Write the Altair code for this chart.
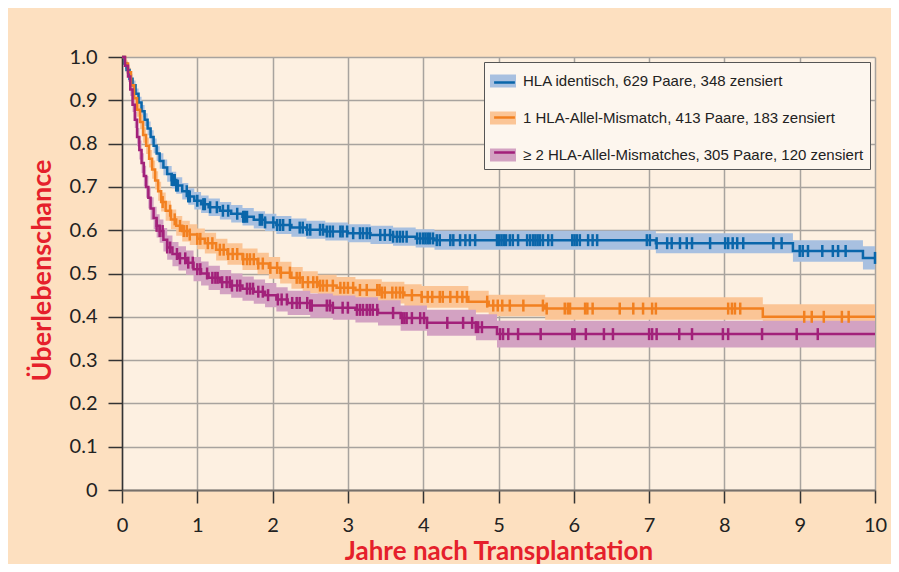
import numpy as np
import pandas as pd
import altair as alt

# ---- data ----
labels = [
    "HLA identisch, 629 Paare, 348 zensiert",
    "1 HLA-Allel-Mismatch, 413 Paare, 183 zensiert",
    "≥ 2 HLA-Allel-Mismatches, 305 Paare, 120 zensiert",
]
line_colors = ["#0a66aa", "#f28020", "#a2217a"]
band_colors = ["#a8c0e0", "#fbc596", "#d3a2c2"]

blue_t = [0, 0.03, 0.06, 0.1, 0.14, 0.18, 0.22, 0.26, 0.3, 0.34,
          0.38, 0.42, 0.46, 0.5, 0.55, 0.6, 0.66, 0.72, 0.8, 0.88,
          0.96, 1.05, 1.15, 1.3, 1.45, 1.6, 1.75, 1.9, 2.05, 2.25,
          2.45, 2.7, 3.0, 3.3, 3.6, 3.9, 4.15, 7.09, 8.91, 9.84]
blue_s = [1.0, 0.985, 0.97, 0.95, 0.935, 0.915, 0.895, 0.875, 0.855, 0.835,
          0.815, 0.795, 0.777, 0.76, 0.745, 0.73, 0.716, 0.703, 0.69, 0.678,
          0.668, 0.66, 0.653, 0.645, 0.638, 0.631, 0.624, 0.618, 0.612, 0.606,
          0.601, 0.597, 0.593, 0.589, 0.585, 0.581, 0.577, 0.570, 0.552, 0.536]
blue_hw = [0.0, 0.006, 0.008, 0.01, 0.011, 0.012, 0.013, 0.014, 0.015, 0.016,
           0.016, 0.017, 0.017, 0.018, 0.018, 0.018, 0.019, 0.019, 0.019, 0.019,
           0.02, 0.02, 0.02, 0.02, 0.02, 0.02, 0.02, 0.02, 0.021, 0.021,
           0.021, 0.021, 0.021, 0.021, 0.021, 0.021, 0.022, 0.023, 0.025, 0.027]

orange_t = [0, 0.04, 0.08, 0.12, 0.16, 0.2, 0.24, 0.28, 0.32, 0.36,
            0.4, 0.44, 0.48, 0.52, 0.58, 0.65, 0.72, 0.8, 0.9, 1.0,
            1.1, 1.25, 1.4, 1.6, 1.8, 1.95, 2.1, 2.25, 2.4, 2.6,
            2.85, 3.1, 3.45, 3.75, 3.98, 4.6, 4.87, 5.62, 8.51]
orange_s = [1.0, 0.985, 0.965, 0.935, 0.905, 0.878, 0.85, 0.82, 0.795, 0.765,
            0.74, 0.715, 0.69, 0.665, 0.645, 0.625, 0.61, 0.598, 0.59, 0.58,
            0.57, 0.555, 0.545, 0.533, 0.523, 0.513, 0.502, 0.49, 0.48, 0.472,
            0.467, 0.462, 0.456, 0.45, 0.446, 0.435, 0.426, 0.419, 0.400]
orange_hw = [0.0, 0.007, 0.01, 0.012, 0.014, 0.016, 0.017, 0.018, 0.019, 0.02,
             0.021, 0.021, 0.022, 0.022, 0.023, 0.023, 0.023, 0.024, 0.024, 0.024,
             0.024, 0.025, 0.025, 0.025, 0.025, 0.025, 0.025, 0.025, 0.025, 0.025,
             0.025, 0.025, 0.025, 0.025, 0.025, 0.025, 0.025, 0.026, 0.029]

purple_t = [0, 0.04, 0.08, 0.11, 0.14, 0.17, 0.2, 0.23, 0.26, 0.29,
            0.32, 0.35, 0.38, 0.42, 0.46, 0.5, 0.55, 0.6, 0.67, 0.75,
            0.85, 0.95, 1.05, 1.15, 1.3, 1.45, 1.6, 1.75, 1.9, 2.05,
            2.2, 2.5, 2.8, 3.1, 3.4, 3.7, 4.05, 4.7, 4.98]
purple_s = [1.0, 0.98, 0.955, 0.925, 0.89, 0.855, 0.815, 0.785, 0.755, 0.725,
            0.7, 0.675, 0.65, 0.628, 0.61, 0.598, 0.578, 0.56, 0.545, 0.535,
            0.525, 0.51, 0.5, 0.49, 0.48, 0.472, 0.465, 0.458, 0.45, 0.44,
            0.432, 0.426, 0.421, 0.416, 0.409, 0.397, 0.386, 0.376, 0.36]
purple_hw = [0.0, 0.008, 0.012, 0.015, 0.017, 0.019, 0.021, 0.022, 0.023, 0.024,
             0.025, 0.025, 0.026, 0.026, 0.027, 0.027, 0.027, 0.028, 0.028, 0.028,
             0.028, 0.028, 0.028, 0.028, 0.028, 0.028, 0.028, 0.028, 0.028, 0.028,
             0.028, 0.028, 0.028, 0.029, 0.029, 0.029, 0.03, 0.03, 0.031]

blue_cens = [0.66, 0.68, 0.70, 0.72, 0.74, 0.86, 0.88, 0.9, 1.0, 1.08, 1.1, 1.17, 1.26, 1.34,
             1.41, 1.53, 1.61, 1.63, 1.66, 1.83, 1.86, 1.90, 2.01, 2.06, 2.10, 2.14,
             2.23, 2.36, 2.40, 2.46, 2.50, 2.63, 2.67, 2.72, 2.76, 2.80, 2.90, 2.93,
             2.99, 3.07, 3.16, 3.20, 3.25, 3.29, 3.43, 3.49, 3.56, 3.60, 3.65, 3.69,
             3.73, 3.78, 3.92, 3.96, 4.0, 4.03, 4.06, 4.09, 4.13, 4.18, 4.22, 4.36, 4.40,
             4.49, 4.56, 4.62, 4.69, 4.98, 5.01, 5.04, 5.07, 5.10, 5.15, 5.19, 5.26,
             5.38, 5.42, 5.46, 5.49, 5.52, 5.55, 5.59, 5.66, 5.71, 5.98, 6.01, 6.04, 6.08,
             6.19, 6.25, 6.31, 6.97, 7.01, 7.10, 7.24, 7.30, 7.41, 7.50, 7.57,
             7.81, 8.01, 8.05, 8.11, 8.17, 8.25, 8.65, 8.76, 9.0, 9.04, 9.11,
             9.30, 9.44, 9.51, 9.61, 10.0]
orange_cens = [0.54, 0.64, 0.70, 0.77, 0.82, 0.86, 0.90, 1.0, 1.04, 1.14, 1.2,
               1.30, 1.35, 1.41, 1.47, 1.53, 1.61, 1.66, 1.70, 1.75, 1.81, 1.87,
               1.97, 2.06, 2.11, 2.23, 2.32, 2.36, 2.40, 2.47, 2.54, 2.59, 2.63,
               2.67, 2.72, 2.80, 2.90, 2.95, 3.0, 3.07, 3.16, 3.25, 3.39, 3.42, 3.45,
               3.49, 3.59, 3.64, 3.69, 3.73, 3.85, 3.98, 4.06, 4.12, 4.22, 4.26,
               4.36, 4.45, 4.52, 4.58, 4.85, 4.93, 4.99, 5.05, 5.15, 5.33, 5.59,
               5.64, 5.88, 5.92, 5.95, 6.15, 6.18, 6.25, 6.61, 6.79, 6.92, 7.04,
               7.09, 8.05, 8.1, 8.14, 8.21, 9.06, 9.16, 9.32, 9.56, 9.65]
purple_cens = [0.46, 0.50, 0.54, 0.60, 0.64, 0.73, 0.77, 0.84, 0.88, 0.94, 1.0,
               1.04, 1.13, 1.20, 1.24, 1.27, 1.33, 1.39, 1.43, 1.46, 1.53, 1.57,
               1.66, 1.70, 1.74, 1.81, 1.87, 1.94, 2.07, 2.12, 2.19, 2.26, 2.32,
               2.36, 2.46, 2.50, 2.52, 2.72, 2.76, 2.80, 2.93, 3.0, 3.12, 3.16,
               3.20, 3.25, 3.29, 3.33, 3.39, 3.60, 3.72, 3.75, 3.78, 3.85, 3.96, 4.01,
               4.05, 4.32, 4.53, 4.65, 4.70, 4.73, 4.78, 5.02, 5.06, 5.13, 5.26,
               5.56, 5.98, 6.01, 6.16, 6.40, 6.52, 7.0, 7.04, 7.1, 7.40, 7.57, 7.98,
               8.05, 8.50, 8.96, 9.24]

x_ticks = list(range(0, 11))
y_ticks = [0, 0.1, 0.2, 0.3, 0.4, 0.5, 0.6, 0.7, 0.8, 0.9, 1.0]

# line legend uses the same labels with a trailing space so it stays a separate legend
labels_line = [l + " " for l in labels]

# ---- tables ----
curve_rows, cens_rows = [], []
groups = [(blue_t, blue_s, blue_hw, blue_cens),
          (orange_t, orange_s, orange_hw, orange_cens),
          (purple_t, purple_s, purple_hw, purple_cens)]
for lab, lab2, (ts, ss, hw, cs) in zip(labels, labels_line, groups):
    tt = list(ts) + [10]
    sv = list(ss) + [ss[-1]]
    hv = list(hw) + [hw[-1]]
    for t, s, h in zip(tt, sv, hv):
        curve_rows.append({"t": t, "s": s, "lo": s - h, "hi": s + h, "grp": lab, "grp2": lab2})
    arr_t = np.array(ts)
    for c in cs:
        idx = int(np.searchsorted(arr_t, c, side="right")) - 1
        cens_rows.append({"t": c, "s": ss[idx], "grp2": lab2})

curves = pd.DataFrame(curve_rows)
cens = pd.DataFrame(cens_rows)

FONT = "Lato"
LEGFONT = "Liberation Sans Narrow, Liberation Sans, sans-serif"
RED = "#e5202b"

x_axis = alt.Axis(values=x_ticks, format="d", title="Jahre nach Transplantation",
                  titleColor=RED, titleFont=FONT, titleFontSize=26, titleFontWeight="bold",
                  titleY=69, titleBaseline="alphabetic",
                  labelFont=FONT, labelFontSize=20, labelColor="#222222", labelPadding=12,
                  labelFlush=False, tickSize=13, tickColor="#333333", tickWidth=1.5,
                  domainColor="#77706a", domainWidth=2, grid=True,
                  gridColor="#a8a39e", gridWidth=1.5)
y_axis = alt.Axis(values=y_ticks, labelExpr="datum.value == 0 ? '0' : format(datum.value, '.1f')",
                  title="Überlebenschance", titleColor=RED, titleFont=FONT, titleFontSize=27,
                  titleFontWeight="bold", titleAngle=-90, titleX=-72, titleY=213,
                  titleBaseline="alphabetic", titleAlign="center",
                  labelFont=FONT, labelFontSize=20, labelColor="#222222", labelPadding=11,
                  labelFlush=False, tickSize=14, tickColor="#333333", tickWidth=1.5,
                  domainColor="#333333", domainWidth=1.5, grid=True,
                  gridColor="#a8a39e", gridWidth=1.5)

xs = alt.Scale(domain=[0, 10], nice=False)
ys = alt.Scale(domain=[0, 1], nice=False)

leg_common = dict(orient="none", legendX=362, legendY=5, title=None,
                  symbolSize=676, padding=6, labelOffset=7,
                  labelFont=LEGFONT, labelFontSize=15, labelColor="#222222",
                  labelLimit=500)

bands = alt.Chart(curves).mark_area(interpolate="step-after", opacity=1).encode(
    x=alt.X("t:Q", scale=xs, axis=x_axis),
    y=alt.Y("lo:Q", scale=ys, axis=y_axis),
    y2="hi:Q",
    fill=alt.Fill("grp:N", scale=alt.Scale(domain=labels, range=band_colors),
                  legend=alt.Legend(symbolType="M-1,-0.5H1V0.5H-1Z",
                                    symbolStrokeWidth=0, symbolOpacity=1,
                                    fillColor="#fdf6ee", strokeColor="#555555",
                                    rowPadding=16, **leg_common)),
)

# line swatch: same bounding box as the band swatch (moves only), visible middle stroke
lines = alt.Chart(curves).mark_line(interpolate="step-after", strokeWidth=2.5).encode(
    x=alt.X("t:Q", scale=xs, axis=x_axis),
    y=alt.Y("s:Q", scale=ys, axis=y_axis),
    stroke=alt.Stroke("grp2:N", scale=alt.Scale(domain=labels_line, range=line_colors),
                      legend=alt.Legend(symbolType="M-1,-0.5M1,0.5M-0.8,0H0.8",
                                        symbolStrokeWidth=2.5, symbolFillColor="transparent",
                                        labelExpr="''", rowPadding=9,
                                        **leg_common)),
)

ticks = alt.Chart(cens).mark_tick(orient="vertical", size=12, thickness=2.5, opacity=1).encode(
    x=alt.X("t:Q", scale=xs, axis=x_axis),
    y=alt.Y("s:Q", scale=ys, axis=y_axis),
    color=alt.Color("grp2:N", scale=alt.Scale(domain=labels_line, range=line_colors), legend=None),
)

chart = alt.layer(bands, lines, ticks).properties(
    width=753, height=433,
    autosize=alt.AutoSizeParams(type="none"),
    padding={"left": 114, "top": 49, "right": 16, "bottom": 74},
    background="#fde0c0",
).configure_view(fill="#fdf0e1", strokeWidth=0)

chart.save("out.html", embed_options={"renderer": "svg", "actions": False})
